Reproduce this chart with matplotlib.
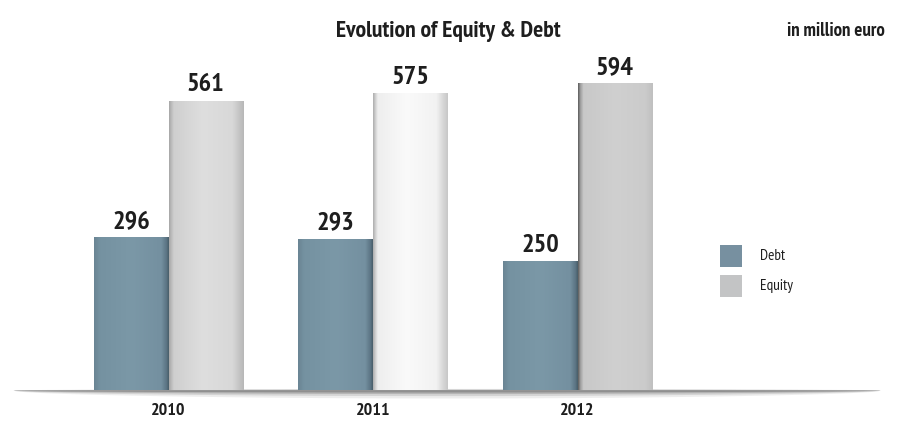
import numpy as np
import matplotlib
matplotlib.use("Agg")
import matplotlib.pyplot as plt
from matplotlib.colors import LinearSegmentedColormap
from matplotlib.patches import Rectangle

# values in million euro
years = ["2010", "2011", "2012"]
debt = [296, 293, 250]
equity = [561, 575, 594]

plt.rcParams["font.family"] = ["PT Sans Narrow", "DejaVu Sans"]

DEBT_COLOR = "#7790a0"
EQUITY_COLOR = "#c3c4c5"
INK = "#1e1e1e"

# horizontal shading per bar (position across bar, colour)
debt_shades = [(0, "#6a8594"), (0.08, "#7592a1"), (0.5, "#7b98a7"),
               (0.9, "#7490a0"), (0.97, "#5c7584"), (1, "#4a5f6b")]
equity_shades = [
    [(0, "#a8a8a8"), (0.06, "#cfcfcf"), (0.45, "#dedede"), (0.85, "#d8d8d8"),
     (0.95, "#c2c2c2"), (1, "#b8b8b8")],
    [(0, "#b0b0b0"), (0.06, "#eeeeee"), (0.45, "#fafafa"), (0.85, "#f2f2f2"),
     (0.95, "#d4d4d4"), (1, "#c8c8c8")],
    [(0, "#606060"), (0.03, "#a0a0a0"), (0.07, "#c8c8c8"), (0.5, "#d0d0d0"),
     (0.9, "#cbcbcb"), (1, "#c0c0c0")],
]

W = 0.365
x = np.arange(len(years))

fig = plt.figure(figsize=(8.97, 4.22), dpi=100)
ax = fig.add_axes([0, 0, 1, 1])
px = 204.5                      # pixels per group
ax.set_xlim(-168.5 / px, (897 - 168.5) / px)
ppu = 0.516                     # pixels per million euro
ax.set_ylim(-32 / ppu, (422 - 32) / ppu)
ax.axis("off")


def shaded_bar(x0, h, shades):
    cmap = LinearSegmentedColormap.from_list("s", shades)
    grad = np.linspace(0, 1, 128).reshape(1, -1)
    im = ax.imshow(grad, cmap=cmap, aspect="auto", extent=(x0, x0 + W, 0, h),
                   zorder=2, interpolation="bilinear")
    im.set_clip_path(Rectangle((x0, 0), W, h, transform=ax.transData))


# soft floor shadow under the bars (thickness in data units)
xs = np.linspace(-0.76, 3.48, 500)
t = (xs - xs[0]) / (xs[-1] - xs[0])
thick = 8 * np.sin(np.pi * t) ** 0.5 / ppu
for k, a in zip([1.0, 0.7, 0.45, 0.25], [0.10, 0.16, 0.24, 0.38]):
    ax.fill_between(xs, -thick * k, thick * 0.2 * k, color="#555555",
                    alpha=a, lw=0, zorder=1)

for i in range(len(years)):
    shaded_bar(x[i] - W, debt[i], debt_shades)
    shaded_bar(x[i], equity[i], equity_shades[i])
    ax.annotate(str(debt[i]), (x[i] - W / 2, debt[i]), xytext=(0, 3),
                textcoords="offset points", ha="center", va="bottom",
                fontsize=19, fontweight="bold", color=INK)
    ax.annotate(str(equity[i]), (x[i] + W / 2, equity[i]), xytext=(0, 3),
                textcoords="offset points", ha="center", va="bottom",
                fontsize=19, fontweight="bold", color=INK)
    ax.text(x[i], -21 / ppu, years[i], ha="center", va="center",
            fontsize=13, fontweight="bold", color=INK)

fig.text(448 / 897, 1 - 31 / 422, "Evolution of Equity & Debt", ha="center",
         va="center", fontsize=17, fontweight="bold", color=INK)
fig.text(836 / 897, 1 - 31 / 422, "in million euro", ha="center",
         va="center", fontsize=13.5, fontweight="bold", color=INK)

# legend
for label, color, yc in [("Debt", DEBT_COLOR, 256), ("Equity", EQUITY_COLOR, 286)]:
    fig.patches.append(Rectangle((720 / 897, 1 - (yc + 11) / 422), 22 / 897,
                                 22 / 422, transform=fig.transFigure,
                                 facecolor=color, edgecolor="none"))
    fig.text(760 / 897, 1 - yc / 422, label, ha="left", va="center",
             fontsize=11, color=INK)

fig.savefig("out.png", dpi=100)
